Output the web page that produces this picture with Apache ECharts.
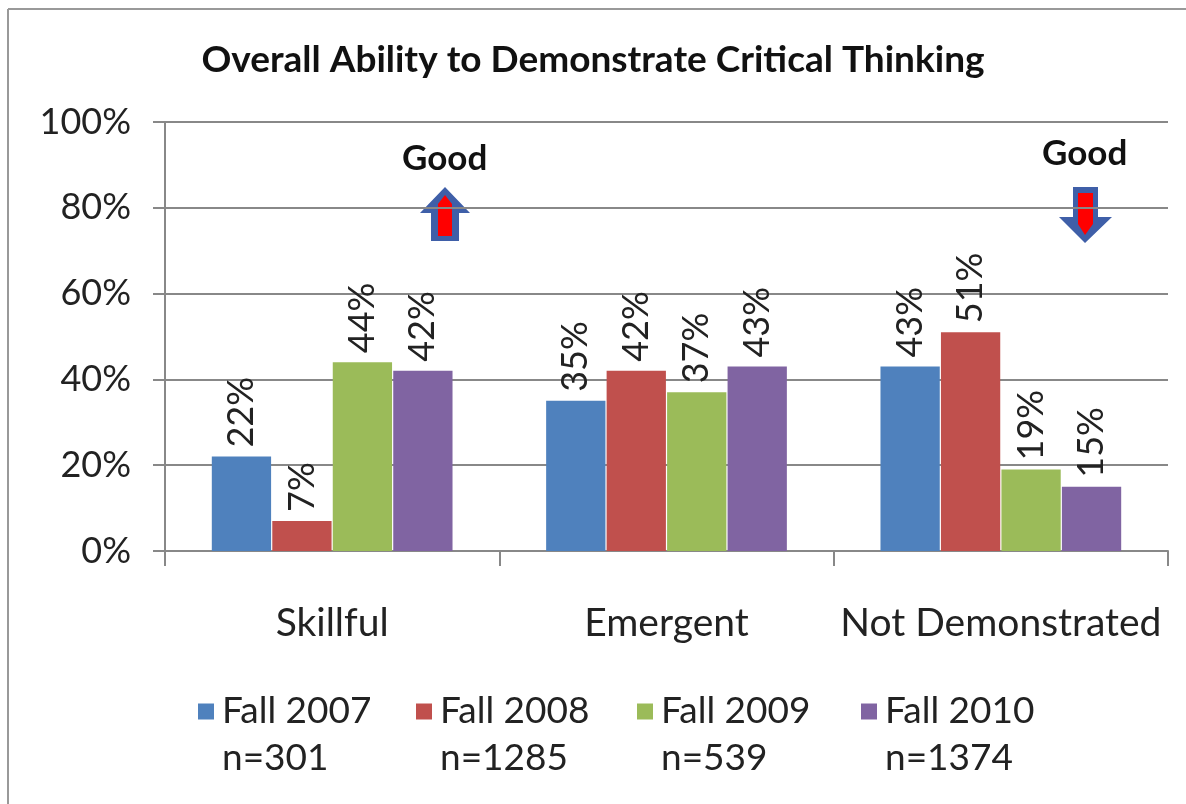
<!DOCTYPE html>
<html>
<head>
<meta charset="utf-8">
<title>Overall Ability to Demonstrate Critical Thinking</title>
<script src="https://cdn.jsdelivr.net/npm/echarts@6/dist/echarts.min.js"></script>
<style>
  html, body { margin: 0; padding: 0; background: #fff; }
  #chart { width: 1186px; height: 804px; }
</style>
</head>
<body>
<div id="chart"></div>
<script type="text/javascript">
// data
var categories = ['Skillful', 'Emergent', 'Not Demonstrated'];
var seriesNames = ['Fall 2007', 'Fall 2008', 'Fall 2009', 'Fall 2010'];
var sampleSizes = ['n=301', 'n=1285', 'n=539', 'n=1374'];
var fall2007 = [22, 35, 43];
var fall2008 = [7, 42, 51];
var fall2009 = [44, 37, 19];
var fall2010 = [42, 43, 15];
var yTicks = [0, 20, 40, 60, 80, 100];

var values = [fall2007, fall2008, fall2009, fall2010];
var colors = ['#4F81BD', '#C0504D', '#9BBB59', '#8064A2'];
var font = 'Lato, Noto Sans, sans-serif';
var legendX = [193, 411, 632, 856];

var chart = echarts.init(document.getElementById('chart'));

var series = [];
for (var i = 0; i < seriesNames.length; i++) {
    series.push({
        name: seriesNames[i],
        type: 'bar',
        data: values[i],
        barGap: '2%',
        barCategoryGap: '28%',
        itemStyle: { color: colors[i] },
        label: {
            show: true,
            position: 'top',
            rotate: 90,
            align: 'left',
            verticalAlign: 'middle',
            distance: 9,
            formatter: '{c}%',
            fontFamily: font,
            fontSize: 36,
            color: '#222'
        }
    });
}

var legends = [];
for (var j = 0; j < seriesNames.length; j++) {
    legends.push({
        data: [seriesNames[j]],
        left: legendX[j],
        top: 688,
        icon: 'rect',
        itemWidth: 16,
        itemHeight: 16,
        itemGap: 6,
        textStyle: { fontFamily: font, fontSize: 37, color: '#222', padding: [0, 0, 0, 3] }
    });
}

var graphics = [
    { type: 'line', shape: { x1: 8, y1: 9, x2: 1186, y2: 9 }, style: { stroke: '#999', lineWidth: 2 } },
    { type: 'line', shape: { x1: 8, y1: 9, x2: 8, y2: 804 }, style: { stroke: '#999', lineWidth: 2 } },
    // up arrow: blue outline, red core
    { type: 'polygon', shape: { points: [[445, 187], [470, 213], [459, 213], [459, 241], [431, 241], [431, 213], [420, 213]] },
      style: { fill: '#3F5FA8' } },
    { type: 'polygon', shape: { points: [[445, 195], [452, 204], [452, 236], [438, 236], [438, 204]] },
      style: { fill: '#FF0000' } },
    { type: 'text', left: 402, top: 141, style: { text: 'Good', font: 'bold 35px ' + font, fill: '#111' } },
    // down arrow
    { type: 'polygon', shape: { points: [[1085, 243], [1112, 217], [1098, 217], [1098, 187], [1073, 187], [1073, 217], [1059, 217]] },
      style: { fill: '#3F5FA8' } },
    { type: 'polygon', shape: { points: [[1085, 235], [1093, 224], [1093, 193], [1078, 193], [1078, 224]] },
      style: { fill: '#FF0000' } },
    { type: 'text', left: 1042, top: 136, style: { text: 'Good', font: 'bold 35px ' + font, fill: '#111' } }
];
for (var k = 0; k < sampleSizes.length; k++) {
    graphics.push({
        type: 'text', left: legendX[k] + 29, top: 740,
        style: { text: sampleSizes[k], font: '37px ' + font, fill: '#222' }
    });
}

chart.setOption({
    animation: false,
    title: {
        text: 'Overall Ability to Demonstrate Critical Thinking',
        left: 'center',
        top: 37,
        textStyle: { fontFamily: font, fontSize: 37, fontWeight: 'bold', color: '#111' }
    },
    grid: { left: 165, right: 18, top: 122, bottom: 253 },
    legend: legends,
    xAxis: {
        type: 'category',
        data: categories,
        axisLine: { lineStyle: { color: '#888', width: 2 } },
        axisTick: { show: true, length: 15, lineStyle: { color: '#888', width: 2 } },
        axisLabel: { interval: 0, hideOverlap: false, fontFamily: font, fontSize: 39, color: '#222', margin: 53 }
    },
    yAxis: {
        type: 'value',
        min: yTicks[0],
        max: yTicks[yTicks.length - 1],
        interval: 20,
        axisLine: { show: true, lineStyle: { color: '#888', width: 2 } },
        axisTick: { show: true, length: 12, lineStyle: { color: '#888', width: 2 } },
        splitLine: { lineStyle: { color: '#888', width: 2 } },
        axisLabel: { fontFamily: font, fontSize: 36, color: '#222', margin: 34, formatter: '{value}%' }
    },
    series: series,
    graphic: graphics
});
</script>
</body>
</html>
